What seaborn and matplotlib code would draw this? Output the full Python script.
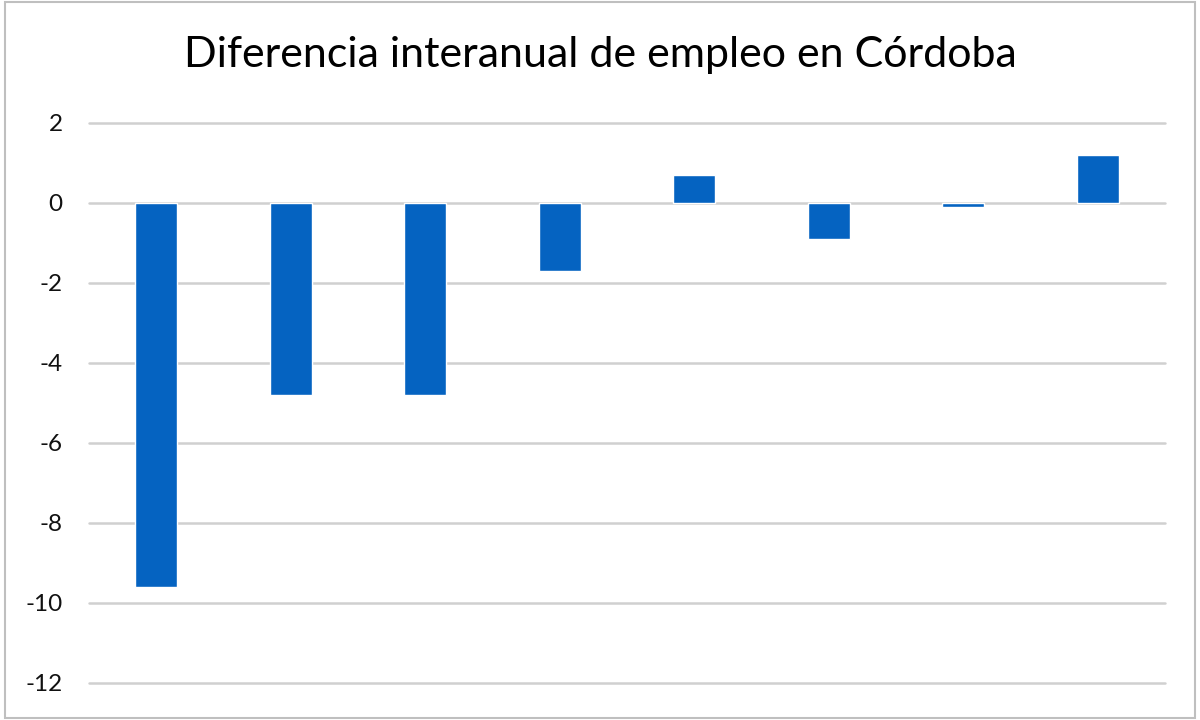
import matplotlib
matplotlib.use("Agg")
import matplotlib.pyplot as plt
import seaborn as sns
import pandas as pd
from matplotlib.patches import Rectangle

categories = ["P1", "P2", "P3", "P4", "P5", "P6", "P7", "P8"]
values = [-9.6, -4.8, -4.8, -1.7, 0.7, -0.9, -0.1, 1.2]
y_ticks = [2, 0, -2, -4, -6, -8, -10, -12]
title = "Diferencia interanual de empleo en Córdoba"

sns.set_theme(style="white")
plt.rcParams['font.family'] = ['Lato', 'DejaVu Sans']

df = pd.DataFrame({"cat": categories, "val": values})

fig = plt.figure(figsize=(12, 7.2), dpi=100)
ax = fig.add_axes([0.0742, 0.0514, 0.8966, 0.7778])

sns.barplot(data=df, x="cat", y="val", color="#0563c1", saturation=1,
            width=0.31, ax=ax, zorder=3)

ax.set_ylim(-12, 2)
ax.set_yticks(y_ticks)
ax.set_yticklabels([str(t) for t in y_ticks], fontsize=17.5, color="#111111")
ax.tick_params(axis="y", length=0, pad=19)
ax.set_xticks([])
ax.set_xlabel("")
ax.set_ylabel("")
ax.grid(axis="y", color="#d0d0d0", linewidth=1.8, zorder=0)
for gl in ax.get_ygridlines():
    gl.set_clip_on(False)
ax.set_axisbelow(True)
for s in ax.spines.values():
    s.set_visible(False)

fig.text(0.5, 0.923, title, ha="center", va="center", fontsize=31, color="#000000")

fig.patches.append(Rectangle((0.004, 0.003), 0.992, 0.994, transform=fig.transFigure,
                             fill=False, edgecolor="#bfbfbf", linewidth=1.5))

fig.savefig("out.png", dpi=100)
